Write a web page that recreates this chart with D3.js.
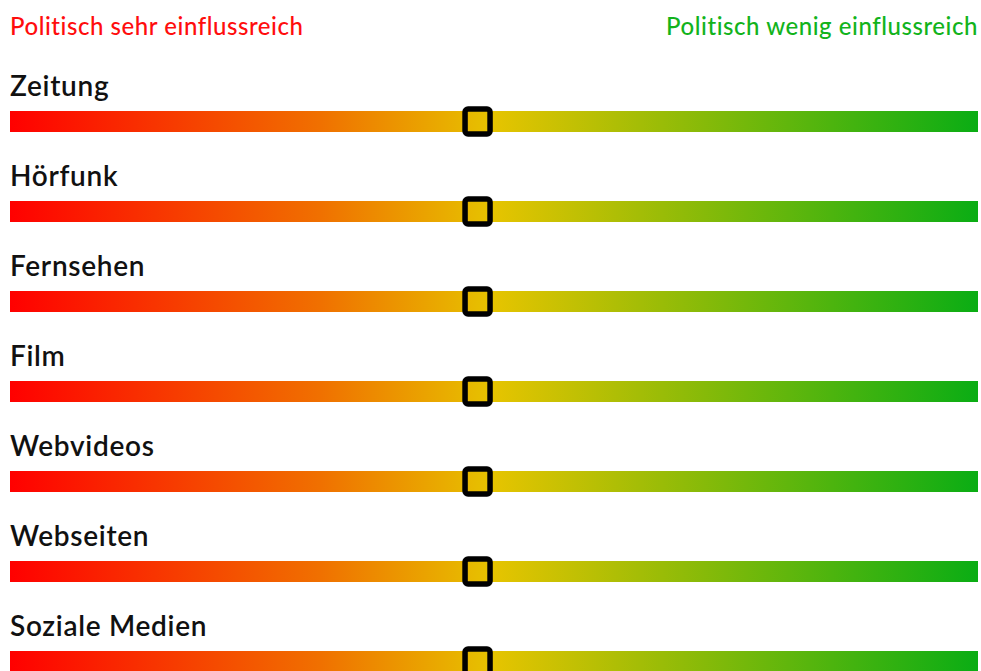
<!DOCTYPE html>
<html>
<head>
<meta charset="utf-8">
<script src="https://cdn.jsdelivr.net/npm/d3@7"></script>
<style>
  body { margin: 0; background: #fff; overflow: hidden; }
  text { font-family: Lato, "Open Sans", sans-serif; }
</style>
</head>
<body>
<div class="chart"></div>
<script>
// ---------- Data
var categories = ["Zeitung", "Hörfunk", "Fernsehen", "Film", "Webvideos", "Webseiten", "Soziale Medien"];
var values = [48.3, 48.3, 48.3, 48.3, 48.3, 48.3, 48.3]; // slider position, 0 = sehr einflussreich, 100 = wenig
var poleLabels = ["Politisch sehr einflussreich", "Politisch wenig einflussreich"];
var gradientColors = ["#ff0000", "#f07000", "#e6c400", "#0aad14"];
var gradientOffsets = [0, 0.32, 0.5, 1];

var width = 981, height = 671;
var barLeft = 10, barRight = 978, barHeight = 21;
var firstBarTop = 111, rowStep = 90;

var svg = d3.select("div.chart").append("svg")
  .attr("width", width)
  .attr("height", height);

var defs = svg.append("defs");
var grad = defs.append("linearGradient")
  .attr("id", "bar-grad")
  .attr("gradientUnits", "userSpaceOnUse")
  .attr("x1", barLeft).attr("x2", barRight)
  .attr("y1", 0).attr("y2", 0);
grad.selectAll("stop")
  .data(gradientColors)
  .enter().append("stop")
  .attr("offset", (d, i) => gradientOffsets[i])
  .attr("stop-color", d => d);

var x = d3.scaleLinear().domain([0, 100]).range([barLeft, barRight]);
var y = d3.scaleBand().domain(categories)
  .range([firstBarTop, firstBarTop + rowStep * categories.length])
  .paddingInner(0).paddingOuter(0);

// pole labels
svg.append("text")
  .attr("x", barLeft).attr("y", 35)
  .attr("fill", "#ff0d0d")
  .attr("font-size", 24)
  .attr("font-weight", 500)
  .attr("letter-spacing", 0.55)
  .text(poleLabels[0]);
svg.append("text")
  .attr("x", barRight).attr("y", 35)
  .attr("text-anchor", "end")
  .attr("fill", "#12b31c")
  .attr("font-size", 24)
  .attr("font-weight", 500)
  .attr("letter-spacing", 0.55)
  .text(poleLabels[1]);

var rows = svg.selectAll("g.row")
  .data(categories)
  .enter().append("g")
  .classed("row", true)
  .attr("transform", d => `translate(0, ${y(d)})`);

rows.append("text")
  .attr("x", barLeft)
  .attr("y", -15)
  .attr("font-size", 28)
  .attr("font-weight", 600)
  .attr("letter-spacing", 0.7)
  .attr("fill", "#111")
  .text(d => d);

rows.append("rect")
  .attr("x", barLeft)
  .attr("y", 0)
  .attr("width", barRight - barLeft)
  .attr("height", barHeight)
  .attr("fill", "url(#bar-grad)");

var knob = 25;
rows.append("rect")
  .attr("x", (d, i) => x(values[i]) - knob / 2)
  .attr("y", barHeight / 2 - knob / 2)
  .attr("width", knob)
  .attr("height", knob)
  .attr("rx", 3)
  .attr("fill", "none")
  .attr("stroke", "#000")
  .attr("stroke-width", 5.5);
</script>
</body>
</html>
